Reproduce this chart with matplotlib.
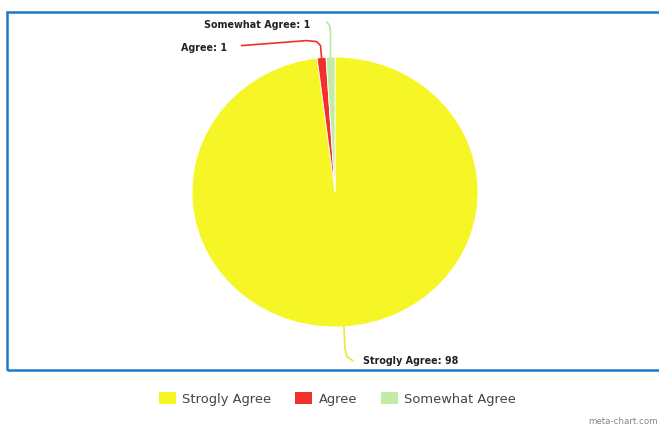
import matplotlib
matplotlib.use("Agg")
import matplotlib.pyplot as plt
import numpy as np
from matplotlib.patches import Rectangle, Patch

categories = ["Strogly Agree", "Agree", "Somewhat Agree"]
values = [98, 1, 1]
colors = ["#f6f626", "#f0302a", "#c2eca6"]

W, H = 659, 428
fig = plt.figure(figsize=(W / 100, H / 100), dpi=100)

# border
fig.patches.append(Rectangle((7 / W, 1 - 370 / H), (W + 5 - 7) / W, (370 - 12) / H,
                             transform=fig.transFigure, fill=False,
                             edgecolor="#1f78cc", linewidth=1.8, clip_on=False))

cx, cy, rx, ry = 335, 192, 143, 135
ax = fig.add_axes([(cx - rx) / W, 1 - (cy + ry) / H, 2 * rx / W, 2 * ry / H])
wedges, _ = ax.pie(values, colors=colors, startangle=90, counterclock=False,
                   radius=1, wedgeprops=dict(linewidth=0.6, edgecolor="white"))
ax.set_xlim(-1, 1)
ax.set_ylim(-1, 1)
ax.set_aspect("auto")
ax.axis("off")

def px2d(px, py):
    return (px - cx) / rx, (cy - py) / ry

line_colors = ["#e8e83a", "#f0302a", "#b5e8a0"]
# connector shapes as pixel offsets from wedge edge point
paths = [
    [(0, 0), (1, 22), (3, 30), (9, 34)],
    [(0, 0), (-1, -12), (-5, -16), (-15, -17), (-80, -12)],
    [(0, 0), (0, -26), (-1, -32), (-4, -35)],
]
text_pos = [(363, 361, "left"), (227, 48, "right"), (310, 25, "right")]

for w, cat, val, lc, pth, (tx, ty, ha) in zip(wedges, categories, values, line_colors, paths, text_pos):
    ang = np.deg2rad((w.theta1 + w.theta2) / 2)
    ex = cx + rx * np.cos(ang)
    ey = cy - ry * np.sin(ang)
    pts = [px2d(ex + dx, ey + dy) for dx, dy in pth]
    xs, ys = zip(*pts)
    ax.plot(xs, ys, color=lc, linewidth=1.2, clip_on=False, solid_capstyle="round")
    x, y = px2d(tx, ty)
    ax.text(x, y, f"{cat}: {val}", ha=ha, va="center", fontsize=6.9,
            fontweight="bold", color="#222222", clip_on=False)

handles = [Patch(facecolor=c, edgecolor="none") for c in colors]
fig.legend(handles, categories, loc="center", bbox_to_anchor=(0.512, 1 - 399 / H),
           ncol=3, frameon=False, fontsize=9.4, handlelength=1.3, handleheight=1.0,
           columnspacing=1.8, handletextpad=0.5, labelcolor="#444444")

fig.text(658 / W, 1 - 421 / H, "meta-chart.com", ha="right", va="center",
         fontsize=6.3, color="#888888")

fig.savefig("out.png", dpi=100)
